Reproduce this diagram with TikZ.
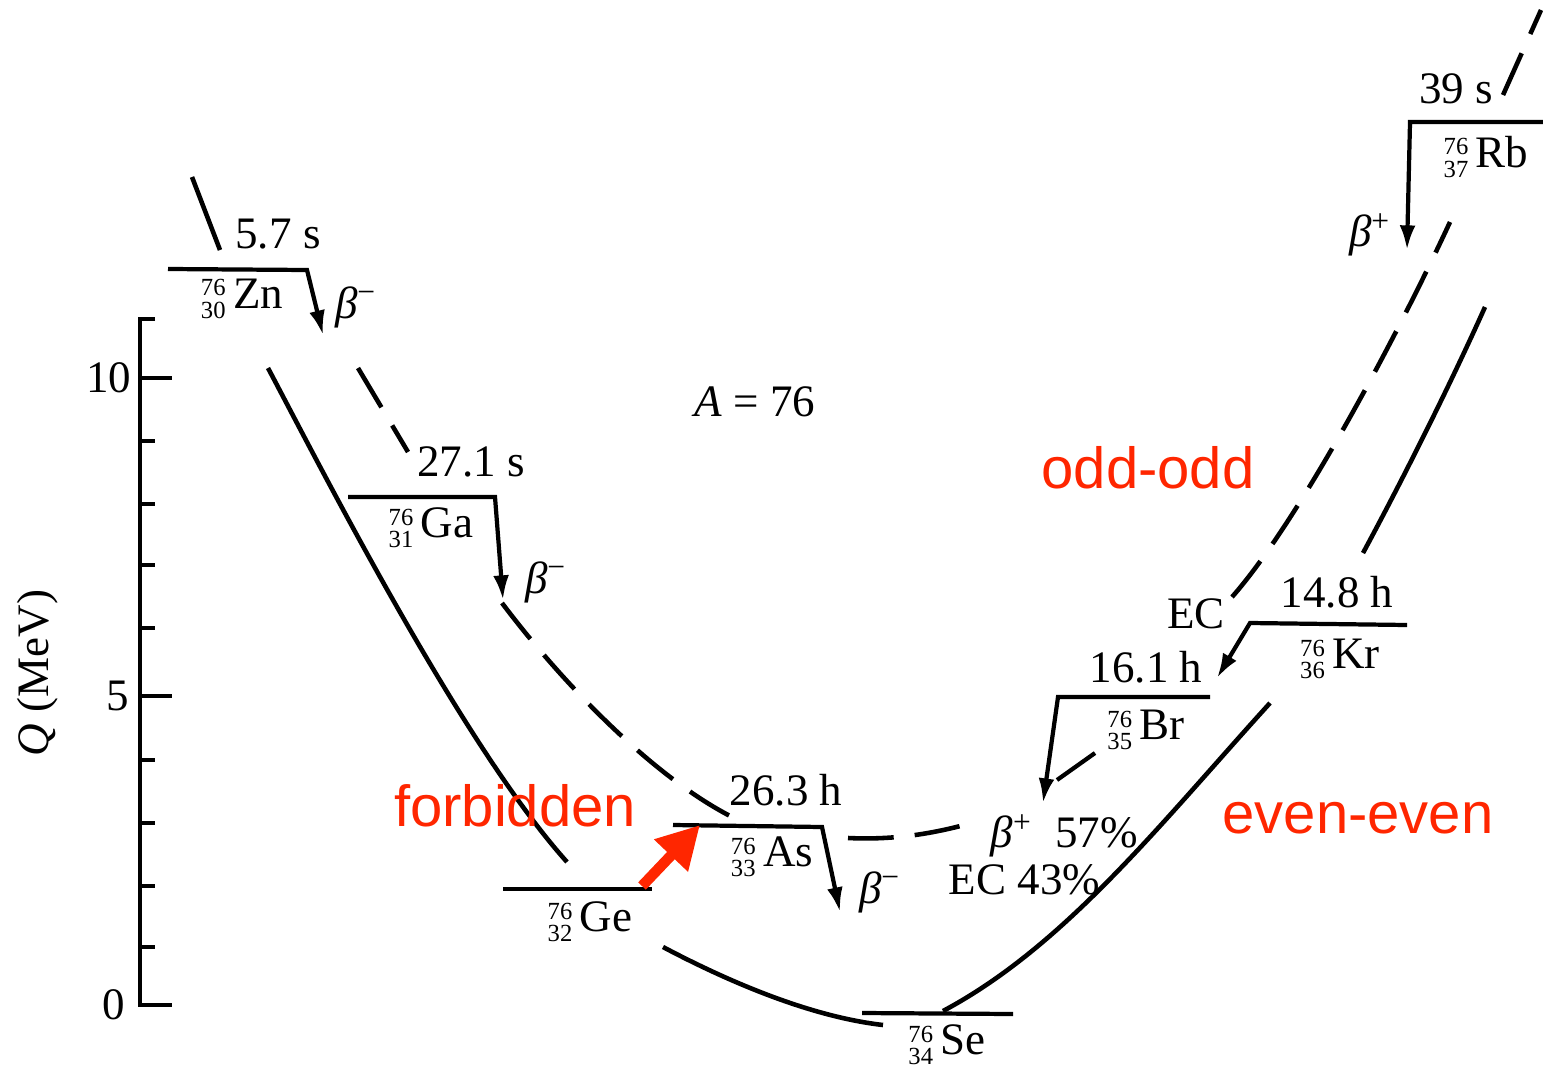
\documentclass[tikz,border=0pt]{standalone}
\usepackage{fontspec}
\setmainfont{Liberation Serif}
\newfontfamily\notefont{Liberation Sans}
\usepackage{tikz}
\usepackage{xcolor}
\definecolor{note_red}{HTML}{FF2600}
\usetikzlibrary{arrows.meta,calc}
\tikzset{LEVEL/.style={line width=1.2pt}}
\tikzset{DECAY/.style={line width=1.2pt, -{Latex[length=7pt,width=4.5pt]}}}
\tikzset{EVEN/.style={line width=1.3pt}}
\tikzset{ODD/.style={line width=1.3pt, dash pattern=on 13pt off 6pt}}
\tikzset{TXT/.style={font=\fontsize{12.8}{14}\selectfont, inner sep=0pt}}
\tikzset{NOTE/.style={font=\notefont\fontsize{16.5}{18}\selectfont, text=note_red, inner sep=0pt}}
\tikzset{FORBID/.style={draw=note_red, line width=3pt, -{Triangle[length=12pt,width=12.5pt]}}}
\newcommand{\nuc}[3]{{\fontsize{7}{6}\selectfont\begin{tabular}[c]{@{}c@{}}#1\\#2\end{tabular}}\,#3}
\newcommand{\bm}{\textit{β}\textsuperscript{−}}
\newcommand{\bp}{\textit{β}\textsuperscript{+}}

\begin{document}
\begin{tikzpicture}[x=0.01cm,y=-0.01cm]
\useasboundingbox (0,0) rectangle (1543,1070);

% Q axis
\coordinate (c_ax_top) at (140,319);
\coordinate (c_ax_bot) at (140,1005);
\draw[LEVEL] (155,319) -- (c_ax_top) -- (c_ax_bot) -- (172,1005);
\foreach \yy in {441,504,565,628,760,823,886,947} \draw[LEVEL] (140,\yy) -- (155,\yy);
\draw[LEVEL] (140,378) -- (172,378);
\draw[LEVEL] (140,696) -- (172,696);
\node[TXT, anchor=east] (n_ax10) at (132,378) {10};
\node[TXT, anchor=east] (n_ax5) at (130,696) {5};
\node[TXT, anchor=east] (n_ax0) at (126,1005) {0};
\node[TXT, rotate=90] (n_ax_label) at (38,673) {\textit{Q} (MeV)};

\node[TXT] (n_mass) at (755,402) {\textit{A} = 76};

% even-even parabola
\coordinate (c_zn_in) at (192,177);
\coordinate (c_zn_in2) at (220,250);
\draw[EVEN] (c_zn_in) -- (c_zn_in2);
\draw[EVEN] (268,368) .. controls (322,470) and (462,745) .. (567,862);
\draw[EVEN] (663,947) .. controls (733,984) and (813,1017) .. (883,1025);
\draw[EVEN] (943,1011) .. controls (1065,946) and (1160,824) .. (1270,703);
\draw[EVEN] (1363,553) .. controls (1405,475) and (1450,385) .. (1485,307);

% odd-odd parabola
\draw[ODD] (358,368) -- (408,452);
\draw[ODD] (502,603) .. controls (560,680) and (650,775) .. (732,817);
\draw[ODD] (848,838) .. controls (890,840) and (930,835) .. (975,822);
\draw[ODD] (1232,597) .. controls (1300,520) and (1400,330) .. (1450,222);
\draw[ODD] (1503,95) -- (1541,10);

% Zn
\coordinate (c_zn_l) at (168,269);
\coordinate (c_zn_r) at (307,270);
\coordinate (c_zn_tip) at (323,335);
\draw[DECAY] (c_zn_l) -- (c_zn_r) -- (c_zn_tip);
\node[TXT] (n_zn_t) at (278,234) {5.7 s};
\node[TXT] (n_zn) at (242,302) {\nuc{76}{30}{Zn}};
\node[TXT] (n_zn_b) at (356,307) {\bm};

% Ga
\coordinate (c_ga_l) at (348,497);
\coordinate (c_ga_r) at (495,497);
\coordinate (c_ga_tip) at (503,600);
\draw[DECAY] (c_ga_l) -- (c_ga_r) -- (c_ga_tip);
\node[TXT] (n_ga_t) at (471,462) {27.1 s};
\node[TXT] (n_ga) at (431,531) {\nuc{76}{31}{Ga}};
\node[TXT] (n_ga_b) at (546,582) {\bm};

% Ge
\coordinate (c_ge_l) at (503,889);
\coordinate (c_ge_r) at (652,889);
\draw[LEVEL] (c_ge_l) -- (c_ge_r);
\node[TXT] (n_ge) at (590,925) {\nuc{76}{32}{Ge}};

% As
\coordinate (c_as_l) at (673,825);
\coordinate (c_as_r) at (822,827);
\coordinate (c_as_tip) at (840,912);
\draw[DECAY] (c_as_l) -- (c_as_r) -- (c_as_tip);
\node[TXT] (n_as_t) at (786,790) {26.3 h};
\node[TXT] (n_as) at (772,860) {\nuc{76}{33}{As}};
\node[TXT] (n_as_b) at (880,892) {\bm};

% Se
\coordinate (c_se_l) at (862,1013);
\coordinate (c_se_r) at (1013,1014);
\draw[LEVEL] (c_se_l) -- (c_se_r);
\node[TXT] (n_se) at (947,1048) {\nuc{76}{34}{Se}};

% Br
\coordinate (c_br_r) at (1210,697);
\coordinate (c_br_l) at (1058,697);
\coordinate (c_br_tip) at (1043,803);
\draw[DECAY] (c_br_r) -- (c_br_l) -- (c_br_tip);
\coordinate (c_br_ec) at (1095,753);
\coordinate (c_br_ec2) at (1057,780);
\draw[LEVEL] (c_br_ec) -- (c_br_ec2);
\node[TXT] (n_br_t) at (1146,667) {16.1 h};
\node[TXT] (n_br) at (1146,733) {\nuc{76}{35}{Br}};
\node[TXT, anchor=west] (n_br_bp) at (990,836) {\bp\enspace 57\%};
\node[TXT, anchor=west] (n_br_ec) at (948,880) {EC 43\%};

% Kr
\coordinate (c_kr_r) at (1407,625);
\coordinate (c_kr_l) at (1250,623);
\coordinate (c_kr_tip) at (1217,678);
\draw[DECAY] (c_kr_r) -- (c_kr_l) -- (c_kr_tip);
\node[TXT] (n_kr_t) at (1337,592) {14.8 h};
\node[TXT] (n_kr) at (1340,662) {\nuc{76}{36}{Kr}};
\node[TXT] (n_kr_ec) at (1196,614) {EC};

% Rb
\coordinate (c_rb_r) at (1543,122);
\coordinate (c_rb_l) at (1410,122);
\coordinate (c_rb_tip) at (1407,250);
\draw[DECAY] (c_rb_r) -- (c_rb_l) -- (c_rb_tip);
\node[TXT] (n_rb_t) at (1456,89) {39 s};
\node[TXT] (n_rb) at (1486,160) {\nuc{76}{37}{Rb}};
\node[TXT] (n_rb_b) at (1370,235) {\bp};

% notes
\node[NOTE] (n_odd) at (1148,468) {odd-odd};
\node[NOTE] (n_even) at (1358,818) {even-even};
\node[NOTE] (n_forbid) at (515,806) {forbidden};
\coordinate (c_fb_s) at (642,886);
\coordinate (c_fb_e) at (700,825);
\draw[FORBID] (c_fb_s) -- (c_fb_e);

\end{tikzpicture}
\end{document}
